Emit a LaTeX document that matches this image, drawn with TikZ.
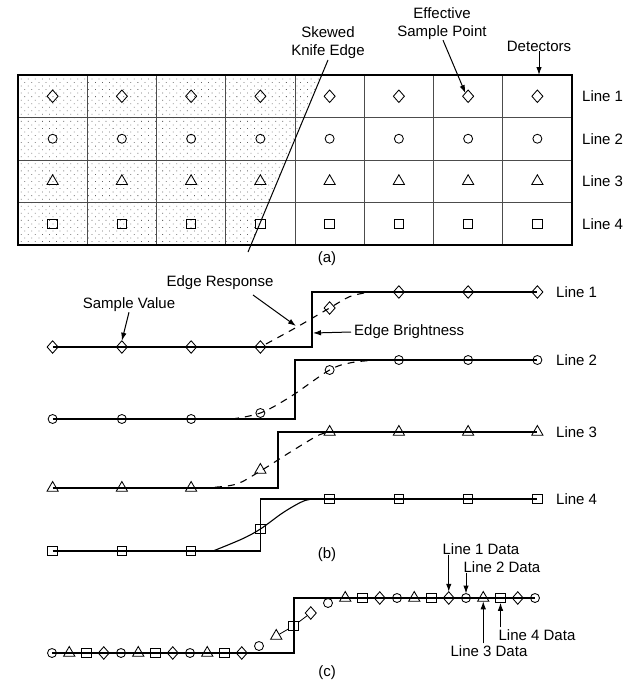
\documentclass[tikz,border=0pt]{standalone}
\usepackage{fontspec}
\setmainfont{Liberation Sans}
\usetikzlibrary{shapes.geometric,arrows.meta,patterns.meta}

\tikzset{
  mk/.style={draw, line width=0.85pt, inner sep=0pt, outer sep=0pt},
  dia/.style={mk, diamond, minimum width=11pt, minimum height=12.5pt},
  cir/.style={mk, circle, minimum size=9pt},
  tri/.style={mk, regular polygon, regular polygon sides=3, minimum size=13pt},
  sqr/.style={mk, rectangle, minimum size=9.5pt},
  lbl/.style={inner sep=0pt, font=\fontsize{15}{18}\selectfont},
  curve/.style={line width=1.1pt, line join=miter},
  edgedash/.style={line width=1.1pt, dash pattern=on 7pt off 6pt},
  arr/.style={line width=1pt, -{Latex[length=8pt,width=5.5pt]}},
  gridline/.style={line width=0.6pt, black!70},
}

% one interleaved sample of the combined data row: #1 = index, #2 = height
\newcommand\datamark[2]{%
  \pgfmathtruncatemacro\mkind{mod(#1,4)}%
  \pgfmathsetmacro\mkx{52+17.25*#1}%
  \ifcase\mkind\relax
    \node[cir] (c#1) at (\mkx,#2) {};%
  \or
    \node[tri] (c#1) at (\mkx,#2) {};%
  \or
    \node[sqr] (c#1) at (\mkx,#2) {};%
  \else
    \node[dia] (c#1) at (\mkx,#2) {};%
  \fi}

\begin{document}
\begin{tikzpicture}[x=1pt,y=-1pt]
\useasboundingbox (0,0) rectangle (632,680);
\fill[white] (0,0) rectangle (632,680);

% ---------------- (a) detector array and knife edge ----------------
\fill[pattern={Dots[distance=5pt, angle=45, radius=0.55pt]}, pattern color=black!60]
  (18,75) -- (321.7,75) -- (250.9,245) -- (18,245) -- cycle;
\foreach \k in {1,...,7} {
  \pgfmathsetmacro\gx{18+69.25*\k}
  \draw[gridline] (\gx,75) -- (\gx,245);
}
\foreach \gy in {117.5,160,202.5}
  \draw[gridline] (18,\gy) -- (572,\gy);
\draw[line width=1.3pt] (18,75) rectangle (572,245);

\coordinate (knifeT) at (328,60);
\coordinate (knifeB) at (248,252);
\draw[line width=1pt] (knifeT) -- (knifeB);

\foreach \c in {1,...,8} {
  \pgfmathsetmacro\cx{18+69.25*(\c-0.5)}
  \node[dia] (a1-\c) at (\cx,96.25) {};
  \node[cir] (a2-\c) at (\cx,138.75) {};
  \node[tri] (a3-\c) at (\cx,181.25) {};
  \node[sqr] (a4-\c) at (\cx,223.75) {};
}

\node[lbl, anchor=west] (la1) at (582,96.25) {Line 1};
\node[lbl, anchor=west] (la2) at (582,138.75) {Line 2};
\node[lbl, anchor=west] (la3) at (582,181.25) {Line 3};
\node[lbl, anchor=west] (la4) at (582,223.75) {Line 4};

\node[lbl, align=center] (skew) at (328,43) {Skewed\\Knife Edge};
\node[lbl, align=center] (esp) at (442,24) {Effective\\Sample Point};
\node[lbl] (det) at (539,46) {Detectors};
\draw[arr] ([xshift=1pt]esp.south) -- (a1-7.north west);
\coordinate (detTip) at (539,75);
\draw[arr] (det.south) -- (detTip);

\node[lbl] (capa) at (327,259) {(a)};

% ---------------- (b) edge response of each line ----------------
\foreach \c/\y in {1/347,2/347,3/347,4/347,5/308,6/292,7/292,8/292} {
  \pgfmathsetmacro\cx{18+69.25*(\c-0.5)}
  \node[dia] (b1-\c) at (\cx,\y) {};
}
\foreach \c/\y in {1/419,2/419,3/419,4/413,5/370,6/360,7/360,8/360} {
  \pgfmathsetmacro\cx{18+69.25*(\c-0.5)}
  \node[cir] (b2-\c) at (\cx,\y) {};
}
\foreach \c/\y in {1/488,2/488,3/488,4/470,5/432,6/432,7/432,8/432} {
  \pgfmathsetmacro\cx{18+69.25*(\c-0.5)}
  \node[tri] (b3-\c) at (\cx,\y) {};
}
\foreach \c/\y in {1/551,2/551,3/551,4/529,5/499,6/499,7/499,8/499} {
  \pgfmathsetmacro\cx{18+69.25*(\c-0.5)}
  \node[sqr] (b4-\c) at (\cx,\y) {};
}

% step edges
\draw[curve] (b1-1.center) -- (312,347) -- (312,292) -- (b1-8.center);
\draw[curve] (b2-1.center) -- (295,419) -- (295,360) -- (b2-8.center);
\draw[curve] (b3-1.center) -- (278,488) -- (278,432) -- (b3-8.center);
\draw[curve] (b4-1.center) -- (260.4,551) -- (260.4,499) -- (b4-8.center);

% blurred edge responses
\draw[edgedash] plot[smooth,tension=0.55] coordinates
  {(266,344) (297,327) (329.6,308) (350,296.5) (370,292)};
\draw[edgedash] plot[smooth,tension=0.55] coordinates
  {(232,419) (260.4,413) (290,397) (329.6,370) (352,362.5) (378,360)};
\draw[edgedash] plot[smooth,tension=0.55] coordinates
  {(202,488) (235,484.5) (260.4,471) (292,451) (320,434.5) (334,432)};
\draw[curve] plot[smooth,tension=0.55] coordinates
  {(213,551) (242,539) (260.4,529) (284,512) (305,500.5) (320,499)};

\node[lbl] (sv) at (129,305) {Sample Value};
\draw[arr] (sv.south) -- (b1-2.north);

\node[lbl] (er) at (220,283) {Edge Response};
\coordinate (erTail) at (253,295);
\coordinate (erTip) at (296,326);
\draw[arr] (erTail) -- (erTip);

\node[lbl, anchor=west] (eb) at (354,332) {Edge Brightness};
\coordinate (ebTip) at (313,333);
\draw[arr] ([xshift=-3pt]eb.west) -- (ebTip);

\node[lbl, anchor=west] (lb1) at (556,292) {Line 1};
\node[lbl, anchor=west] (lb2) at (556,360) {Line 2};
\node[lbl, anchor=west] (lb3) at (556,432) {Line 3};
\node[lbl, anchor=west] (lb4) at (556,499) {Line 4};

\node[lbl] (capb) at (327,555) {(b)};

% ---------------- (c) interleaved edge data ----------------
\foreach \i in {0,...,11} {\datamark{\i}{653}}
\datamark{12}{646}
\datamark{13}{636}
\datamark{14}{626}
\datamark{15}{613}
\datamark{16}{603}
\foreach \i in {17,...,28} {\datamark{\i}{598}}

\draw[curve] (c0.center) -- (294,653) -- (294,598) -- (c28.center);
\draw[line width=0.8pt] (c13) -- (c14);
\draw[line width=0.8pt] (c14) -- (c15);

\node[lbl] (l1d) at (481,549) {Line 1 Data};
\node[lbl] (l2d) at (502,567) {Line 2 Data};
\node[lbl] (l3d) at (489,651) {Line 3 Data};
\node[lbl] (l4d) at (537,635) {Line 4 Data};
\draw[arr] (l1d.south -| c23) -- (c23.north);
\draw[arr] (l2d.south -| c24) -- (c24.north);
\draw[arr] ([yshift=2pt]l3d.north -| c25) -- (c25.south);
\draw[arr] ([yshift=2pt]l4d.north -| c26) -- (c26.south);

\node[lbl] (capc) at (327,673) {(c)};
\end{tikzpicture}
\end{document}
